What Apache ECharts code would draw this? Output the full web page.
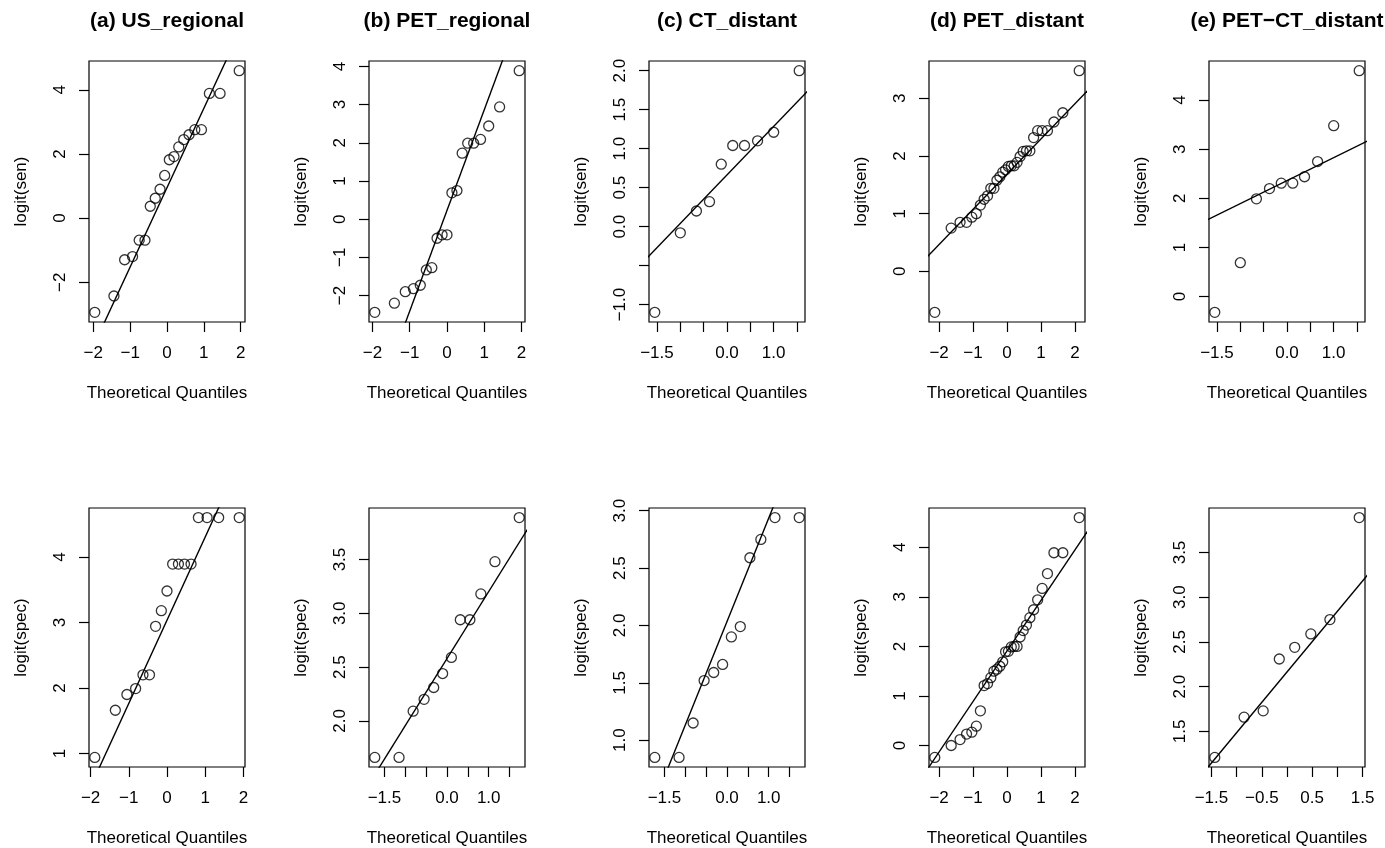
<!DOCTYPE html>
<html>
<head>
<meta charset="utf-8">
<script src="https://cdn.jsdelivr.net/npm/echarts@6/dist/echarts.min.js"></script>
<style>
  html, body { margin: 0; padding: 0; background: #fff; }
  #chart { width: 1385px; height: 848px; }
</style>
</head>
<body>
<div id="chart"></div>
<script>
  // theoretical normal quantiles, one array per sample size
  const qx8 = [-1.434, -0.852, -0.473, -0.153, 0.153, 0.473, 0.852, 1.434];
  const qx10 = [-1.547, -1.0, -0.655, -0.375, -0.123, 0.123, 0.375, 0.655, 1.0, 1.547];
  const qx12 = [-1.732, -1.15, -0.812, -0.549, -0.319, -0.105, 0.105, 0.319, 0.549, 0.812, 1.15, 1.732];
  const qx17 = [-1.89, -1.352, -1.049, -0.821, -0.629, -0.458, -0.299, -0.148, 0, 0.148, 0.299, 0.458, 0.629, 0.821, 1.049, 1.352, 1.89];
  const qx19 = [-1.938, -1.412, -1.119, -0.9, -0.716, -0.555, -0.407, -0.267, -0.132, 0, 0.132, 0.267, 0.407, 0.555, 0.716, 0.9, 1.119, 1.412, 1.938];
  const qx20 = [-1.96, -1.44, -1.15, -0.935, -0.755, -0.598, -0.454, -0.319, -0.189, -0.063, 0.063, 0.189, 0.319, 0.454, 0.598, 0.755, 0.935, 1.15, 1.44, 1.96];
  const qx30 = [-2.128, -1.645, -1.383, -1.192, -1.036, -0.903, -0.784, -0.674, -0.573, -0.477, -0.385, -0.297, -0.21, -0.126, -0.042,
    0.042, 0.126, 0.21, 0.297, 0.385, 0.477, 0.573, 0.674, 0.784, 0.903, 1.036, 1.192, 1.383, 1.645, 2.128];

  // sample quantiles (sorted logits)
  const senUS = [-2.94, -2.43, -1.3, -1.2, -0.69, -0.69, 0.37, 0.62, 0.9, 1.33, 1.82, 1.92, 2.22, 2.45, 2.6, 2.76, 2.76, 3.89, 3.89, 4.6];
  const senPETreg = [-2.44, -2.2, -1.9, -1.82, -1.73, -1.33, -1.27, -0.5, -0.41, -0.41, 0.69, 0.75, 1.73, 1.99, 1.99, 2.09, 2.44, 2.94, 3.89];
  const senCT = [-1.1, -0.08, 0.2, 0.32, 0.8, 1.04, 1.04, 1.1, 1.21, 2.0];
  const senPETdist = [-0.71, 0.75, 0.85, 0.85, 0.94, 1.0, 1.15, 1.25, 1.31, 1.44, 1.44, 1.58, 1.64, 1.72, 1.76,
    1.82, 1.83, 1.83, 1.89, 1.99, 2.08, 2.09, 2.09, 2.32, 2.44, 2.44, 2.44, 2.59, 2.75, 3.48];
  const senPETCT = [-0.32, 0.69, 1.99, 2.2, 2.31, 2.31, 2.44, 2.75, 3.48, 4.6];

  const specUS = [0.94, 1.66, 1.9, 1.99, 2.2, 2.2, 2.94, 3.18, 3.48, 3.89, 3.89, 3.89, 3.89, 4.6, 4.6, 4.6, 4.6];
  const specPETreg = [1.66, 1.66, 2.09, 2.2, 2.31, 2.44, 2.59, 2.94, 2.94, 3.18, 3.48, 3.89];
  const specCT = [0.85, 0.85, 1.15, 1.52, 1.59, 1.66, 1.9, 1.99, 2.59, 2.75, 2.94, 2.94];
  const specPETdist = [-0.24, 0.0, 0.12, 0.23, 0.27, 0.39, 0.7, 1.21, 1.25, 1.37, 1.5, 1.54, 1.6, 1.69, 1.89,
    1.9, 1.99, 2.0, 2.0, 2.19, 2.32, 2.43, 2.58, 2.74, 2.94, 3.17, 3.47, 3.89, 3.89, 4.6];
  const specPETCT = [1.21, 1.66, 1.73, 2.31, 2.44, 2.59, 2.75, 3.89];

  // reference lines: [intercept, slope]
  const lineSen = [[0.95, 2.475], [0.23, 2.636], [0.662, 0.6225], [1.685, 0.61], [2.361, 0.468]];
  const lineSpec = [[3.034, 1.27], [2.579, 0.623], [2.034, 0.9015], [1.908, 1.018], [2.164, 0.678]];

  const titles = ['(a) US_regional', '(b) PET_regional', '(c) CT_distant', '(d) PET_distant', '(e) PET\u2212CT_distant'];

  // tick positions and labelled ticks
  const xInt = [-2, -1, 0, 1, 2];
  const xHalf = [-1.5, -1, -0.5, 0, 0.5, 1, 1.5];
  const xHalfLab = [-1.5, 0, 1];
  const xHalfLabAlt = [-1.5, -0.5, 0.5, 1.5];
  const ySenA = [-2, 0, 2, 4];
  const ySenB = [-2, -1, 0, 1, 2, 3, 4];
  const ySenC = [-1, -0.5, 0, 0.5, 1, 1.5, 2];
  const ySenCLab = [-1, 0, 0.5, 1, 1.5, 2];
  const ySenD = [0, 1, 2, 3];
  const ySenE = [0, 1, 2, 3, 4];
  const ySpecA = [1, 2, 3, 4];
  const ySpecB = [2, 2.5, 3, 3.5];
  const ySpecC = [1, 1.5, 2, 2.5, 3];
  const ySpecD = [0, 1, 2, 3, 4];
  const ySpecE = [1.5, 2, 2.5, 3, 3.5];

  const panels = [
    { x: qx20, y: senUS, xt: xInt, xl: xInt, yt: ySenA, yl: ySenA },
    { x: qx19, y: senPETreg, xt: xInt, xl: xInt, yt: ySenB, yl: ySenB },
    { x: qx10, y: senCT, xt: xHalf, xl: xHalfLab, yt: ySenC, yl: ySenCLab },
    { x: qx30, y: senPETdist, xt: xInt, xl: xInt, yt: ySenD, yl: ySenD },
    { x: qx10, y: senPETCT, xt: xHalf, xl: xHalfLab, yt: ySenE, yl: ySenE },
    { x: qx17, y: specUS, xt: xInt, xl: xInt, yt: ySpecA, yl: ySpecA },
    { x: qx12, y: specPETreg, xt: xHalf, xl: xHalfLab, yt: ySpecB, yl: ySpecB },
    { x: qx12, y: specCT, xt: xHalf, xl: xHalfLab, yt: ySpecC, yl: ySpecC },
    { x: qx30, y: specPETdist, xt: xInt, xl: xInt, yt: ySpecD, yl: ySpecD },
    { x: qx8, y: specPETCT, xt: xHalf, xl: xHalfLabAlt, yt: ySpecE, yl: ySpecE },
  ];

  const font = '"Liberation Sans", Arial, sans-serif';

  // R style range: data range stretched by 4% each side
  const extent = (arr) => {
    const lo = Math.min(...arr);
    const hi = Math.max(...arr);
    const pad = (hi - lo) * 0.04;
    return [lo - pad, hi + pad];
  };

  const fmt = (v, dec) => (v < 0 ? '\u2212' : '') + Math.abs(v).toFixed(dec);
  const decimals = (ticks) => (ticks.every(Number.isInteger) ? 0 : 1);

  const grid = [];
  const xAxis = [];
  const yAxis = [];
  const series = [];

  panels.forEach((p, k) => {
    const col = k % 5;
    const row = Math.floor(k / 5);
    const [x0, x1] = extent(p.x);
    const [y0, y1] = extent(p.y);
    const xd = decimals(p.xt);
    const yd = decimals(p.yt);
    const ln = row === 0 ? lineSen[col] : lineSpec[col];

    grid.push({
      left: 89 + 280 * col,
      top: row === 0 ? 61 : 508,
      width: 156,
      height: 261,
      show: true,
      borderColor: '#000',
      borderWidth: 1.2,
      backgroundColor: 'transparent',
    });

    xAxis.push({
      gridIndex: k,
      type: 'value',
      position: 'bottom',
      min: x0,
      max: x1,
      axisLine: { show: false, onZero: false },
      axisTick: { show: true, length: 10, customValues: p.xt, lineStyle: { color: '#000', width: 1.2 } },
      axisLabel: {
        customValues: p.xl,
        formatter: (v) => fmt(v, xd),
        margin: 23,
        fontSize: 17,
        color: '#000',
        fontFamily: font,
      },
      splitLine: { show: false },
      name: 'Theoretical Quantiles',
      nameLocation: 'middle',
      nameGap: 63,
      nameTextStyle: { fontSize: 17, color: '#000', fontFamily: font },
    });

    yAxis.push({
      gridIndex: k,
      type: 'value',
      position: 'left',
      min: y0,
      max: y1,
      axisLine: { show: false, onZero: false },
      axisTick: { show: true, length: 10, customValues: p.yt, lineStyle: { color: '#000', width: 1.2 } },
      axisLabel: {
        customValues: p.yl,
        formatter: (v) => fmt(v, yd),
        rotate: 90,
        margin: 20,
        fontSize: 17,
        color: '#000',
        fontFamily: font,
      },
      splitLine: { show: false },
      name: row === 0 ? 'logit(sen)' : 'logit(spec)',
      nameLocation: 'middle',
      nameGap: 59,
      nameTextStyle: { fontSize: 17, color: '#000', fontFamily: font },
    });

    series.push({
      type: 'scatter',
      xAxisIndex: k,
      yAxisIndex: k,
      data: p.x.map((v, i) => [v, p.y[i]]),
      symbol: 'circle',
      symbolSize: 10,
      itemStyle: { color: 'rgba(0,0,0,0)', borderColor: '#000', borderWidth: 1.3 },
      silent: true,
    });

    series.push({
      type: 'line',
      xAxisIndex: k,
      yAxisIndex: k,
      data: [[-4, ln[0] - 4 * ln[1]], [4, ln[0] + 4 * ln[1]]],
      showSymbol: false,
      symbol: 'none',
      clip: true,
      lineStyle: { color: '#000', width: 1.4 },
      silent: true,
    });
  });

  const chart = echarts.init(document.getElementById('chart'));
  chart.setOption({
    animation: false,
    backgroundColor: '#fff',
    textStyle: { fontFamily: font },
    title: titles.map((t, i) => ({
      text: t,
      left: 167 + 280 * i,
      top: 11,
      textAlign: 'center',
      padding: 0,
      textStyle: { fontSize: 21, fontWeight: 'bold', color: '#000', fontFamily: font },
    })),
    grid,
    xAxis,
    yAxis,
    series,
  });
</script>
</body>
</html>
